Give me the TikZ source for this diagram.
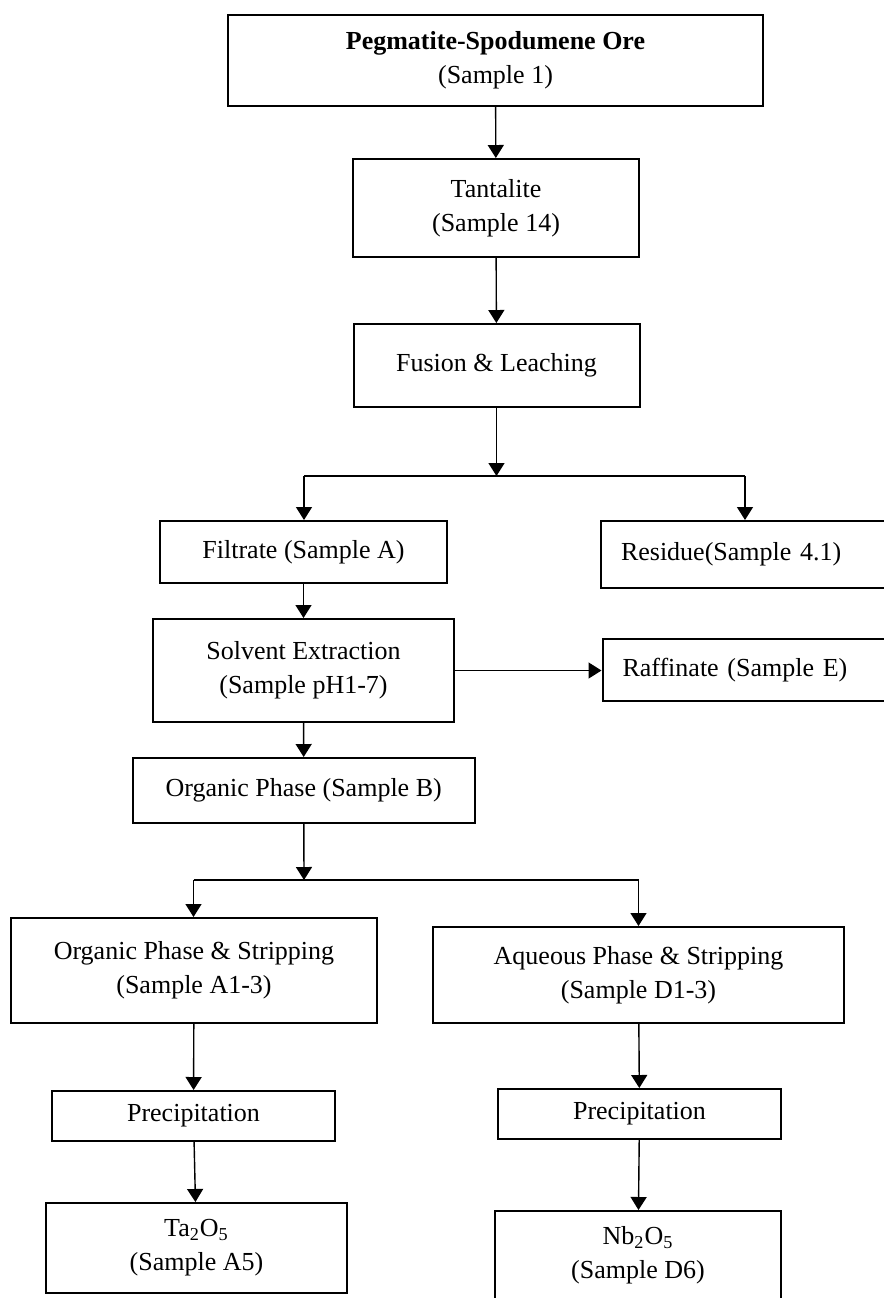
\documentclass[tikz,border=0pt]{standalone}
\usepackage{fontspec}
\setmainfont{Liberation Serif}
\usetikzlibrary{positioning, arrows.meta}

\begin{document}
\begin{tikzpicture}[
  x=0.5pt, y=-0.5pt,
  font=\fontsize{13}{17}\selectfont,
  box/.style={draw, line width=1pt, align=center, inner sep=0pt},
  sidebox/.style={box, anchor=west, align=left, inner xsep=10pt, text width=130pt},
  arrow/.style={-{Triangle[length=6.5pt, width=8pt]}, line width=0.7pt},
  link/.style={line width=1pt},
]
  \useasboundingbox (0,0) rectangle (884,1298);
  \clip (0,0) rectangle (884,1298);

  \node[box, minimum width=267.5pt, minimum height=45.5pt] (ore)    at (495.5,60.5)  {\textbf{Pegmatite-Spodumene Ore}\\(Sample 1)};
  \node[box, minimum width=143pt,   minimum height=49pt]   (tant)   at (496,208)     {Tantalite\\(Sample 14)};
  \node[box, minimum width=143pt,   minimum height=41.5pt] (fusion) at (496.5,365.5) {Fusion \& Leaching};
  \node[box, minimum width=143.5pt, minimum height=31pt]   (filt)   at (303.5,552)   {Filtrate (Sample A)};
  \node[sidebox, minimum height=33.5pt]                    (res)    at (600,554.5)   {Residue(Sample 4.1)};
  \node[box, minimum width=150.75pt, minimum height=51.5pt] (solv)  at (303.5,670.5) {Solvent Extraction\\(Sample pH1-7)};
  \node[sidebox, minimum height=31pt]                      (raff)   at (601.5,670)   {Raffinate (Sample E)};
  \node[box, minimum width=171.25pt, minimum height=32.5pt] (orgb)  at (303.75,790.5) {Organic Phase (Sample B)};
  \node[box, minimum width=183pt,   minimum height=52.5pt] (orgs)   at (194,970.5)   {Organic Phase \& Stripping\\(Sample A1-3)};
  \node[box, minimum width=205.5pt, minimum height=48pt]   (aqs)    at (638.5,975)   {Aqueous Phase \& Stripping\\(Sample D1-3)};
  \node[box, minimum width=141.5pt, minimum height=25pt]   (precl)  at (193.5,1116)  {Precipitation};
  \node[box, minimum width=141.5pt, minimum height=25pt]   (precr)  at (639.5,1114)  {Precipitation};
  \node[box, minimum width=150.5pt, minimum height=45pt]   (ta)     at (196.5,1248)  {Ta\textsubscript{2}O\textsubscript{5}\\(Sample A5)};
  \node[box, minimum width=143pt,   minimum height=44.5pt] (nb)     at (638,1255.5)  {Nb\textsubscript{2}O\textsubscript{5}\\(Sample D6)};

  \coordinate (split1)  at (496.5,476);
  \coordinate (split1l) at (304,476);
  \coordinate (split1r) at (745,476);
  \coordinate (split2)  at (304,880);
  \coordinate (split2l) at (193.5,880);
  \coordinate (split2r) at (638.5,880);

  \draw[arrow] (ore) -- (tant);
  \draw[arrow] (tant) -- (fusion);
  \draw[arrow] (fusion) -- (split1);
  \draw[link]  (split1l) -- (split1r);
  \draw[arrow] (split1l) -- (split1l |- filt.north);
  \draw[arrow] (split1r) -- (split1r |- res.north);
  \draw[arrow] (filt) -- (solv);
  \draw[arrow] (solv.east) -- (solv.east -| raff.west);
  \draw[arrow] (solv) -- (orgb);
  \draw[arrow] (orgb) -- (split2);
  \draw[link]  (split2l) -- (split2r);
  \draw[arrow] (split2l) -- (split2l |- orgs.north);
  \draw[arrow] (split2r) -- (split2r |- aqs.north);
  \draw[arrow] (orgs) -- (precl);
  \draw[arrow] (precl) -- (ta);
  \draw[arrow] (aqs) -- (precr);
  \draw[arrow] (precr) -- (nb);
\end{tikzpicture}
\end{document}
